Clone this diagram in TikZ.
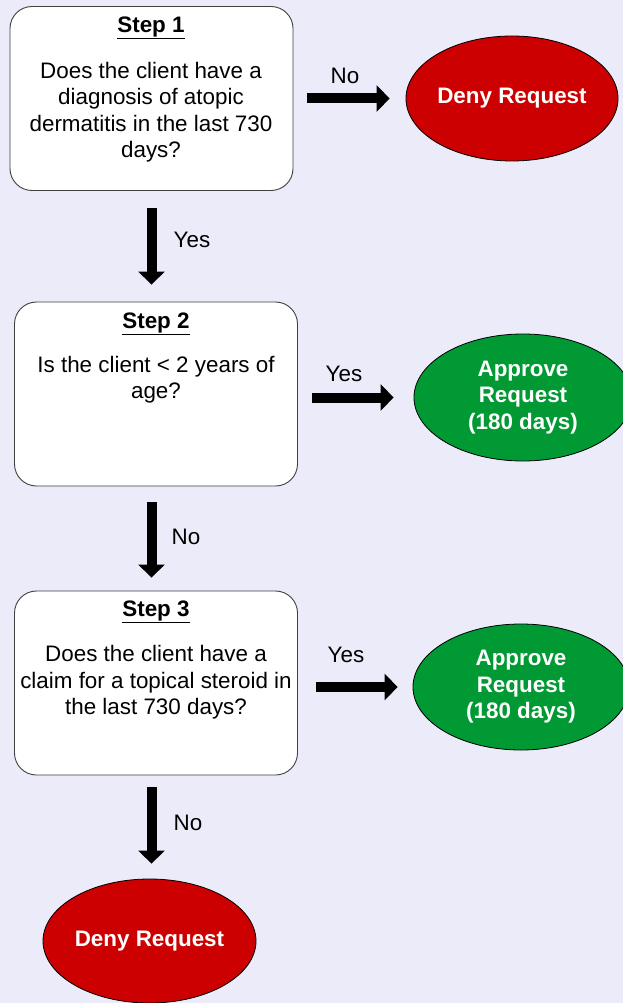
\documentclass[tikz,border=0pt]{standalone}
\usepackage{fontspec}
\setmainfont{Liberation Sans}
\usetikzlibrary{arrows.meta,shapes.geometric}
\definecolor{bglav}{RGB}{235,235,250}
\definecolor{denyred}{RGB}{204,0,0}
\definecolor{okgreen}{RGB}{0,153,51}
\tikzset{
  stepbox/.style={rectangle, rounded corners=22pt, draw=black!75, line width=0.9pt, fill=white, minimum width=283pt, minimum height=184pt, inner sep=0pt},
  steptitle/.style={font=\fontsize{22.4}{26}\selectfont\bfseries, inner sep=0pt},
  question/.style={font=\fontsize{22.4}{26.5}\selectfont, align=center, inner sep=0pt},
  outcome/.style={ellipse, draw=black, line width=0.8pt, inner sep=0pt, text=white, font=\fontsize{22.4}{26.5}\selectfont\bfseries, align=center},
  deny/.style={outcome, fill=denyred},
  approve/.style={outcome, fill=okgreen},
  flow/.style={line width=10pt, -{Triangle[length=13pt,width=26pt]}},
  lbl/.style={font=\fontsize{22.4}{26}\selectfont, inner sep=0pt}
}

\begin{document}
\begin{tikzpicture}[x=1pt,y=-1pt]
  \fill[bglav] (0,0) rectangle (623,1003);
  \useasboundingbox (0,0) rectangle (623,1003);
  \clip (0,0) rectangle (623,1003);

  % question boxes
  \node[stepbox] (s1) at (151.5,98.5) {};
  \node[stepbox] (s2) at (156,394) {};
  \node[stepbox] (s3) at (156,683) {};
  \node[steptitle] (t1) at (151,28) {\underline{Step 1}};
  \node[steptitle] (t2) at (156,324) {\underline{Step 2}};
  \node[steptitle] (t3) at (156,612) {\underline{Step 3}};
  \node[question] (q1) at (151,112) {Does the client have a\\diagnosis of atopic\\dermatitis in the last 730\\days?};
  \node[question] (q2) at (156,379.5) {Is the client < 2 years of\\age?};
  \node[question] (q3) at (156,682.5) {Does the client have a\\claim for a topical steroid in\\the last 730 days?};

  % outcomes
  \node[deny, minimum width=212pt, minimum height=125pt] (deny1) at (512,98.5) {Deny Request};
  \node[approve, minimum width=218pt, minimum height=127pt] (ok2) at (523,397.5) {Approve\\Request\\(180 days)};
  \node[approve, minimum width=216pt, minimum height=126pt] (ok3) at (521,687) {Approve\\Request\\(180 days)};
  \node[deny, minimum width=213pt, minimum height=124pt] (deny2) at (149.5,941) {Deny Request};

  % arrows
  \draw[flow, shorten <=14pt, shorten >=16pt] (s1.east |- deny1) -- (deny1.west);
  \draw[flow, shorten <=14pt, shorten >=20pt] (s2.east |- ok2) -- (ok2.west);
  \draw[flow, shorten <=18pt, shorten >=15pt] (s3.east |- ok3) -- (ok3.west);
  \draw[flow, shorten <=17pt, shorten >=17pt] (s1.south) -- (s1.south |- s2.north);
  \draw[flow, shorten <=16pt, shorten >=13pt] (s1.south |- s2.south) -- (s1.south |- s3.north);
  \draw[flow, shorten <=12pt, shorten >=15pt] (s1.south |- s3.south) -- (s1.south |- deny2.north);

  % labels
  \node[lbl] (no1) at (345,76) {No};
  \node[lbl] (yes1) at (192,240) {Yes};
  \node[lbl] (yes2) at (344,374) {Yes};
  \node[lbl] (no2) at (186,537) {No};
  \node[lbl] (yes3) at (346,655) {Yes};
  \node[lbl] (no3) at (188,823) {No};
\end{tikzpicture}
\end{document}
